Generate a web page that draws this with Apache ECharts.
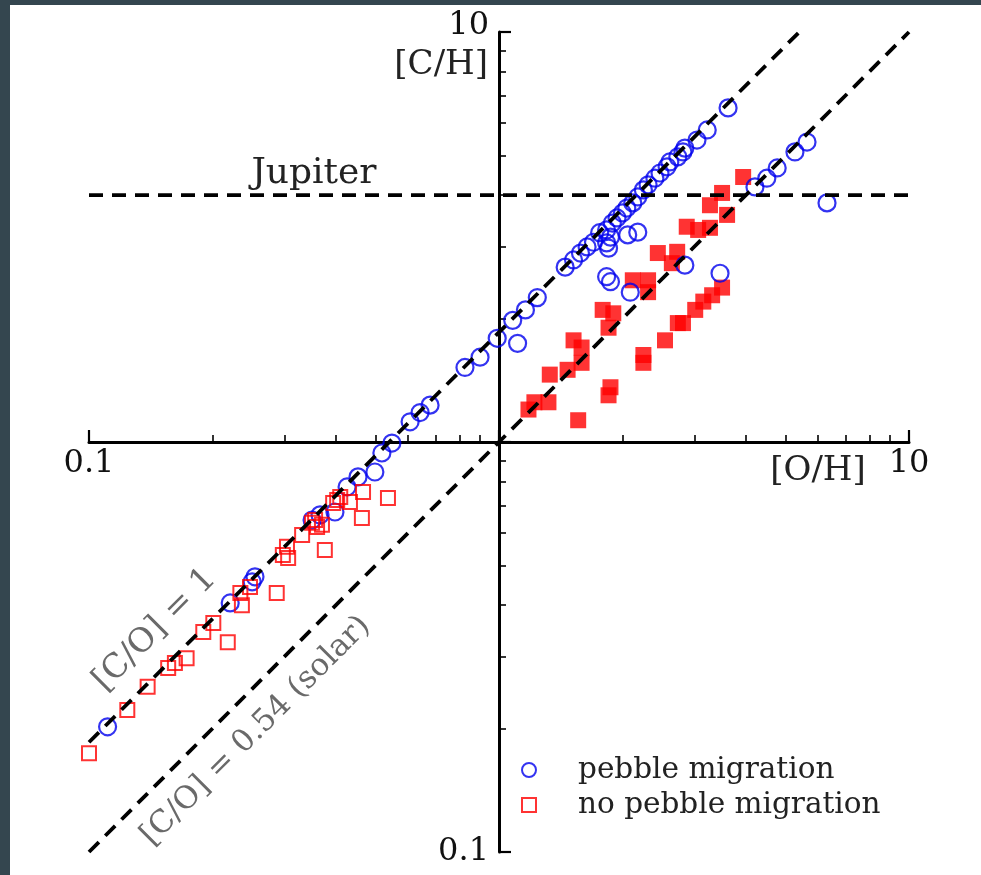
<!DOCTYPE html>
<html><head><meta charset="utf-8">
<script src="https://cdn.jsdelivr.net/npm/echarts@6/dist/echarts.min.js"></script>
<style>
html,body{margin:0;padding:0;background:#fff;}
#main{position:absolute;left:0;top:0;width:981px;height:875px;}
.bd{position:absolute;background:#34464f;z-index:10;}
</style></head><body>
<div id="main"></div>
<div class="bd" style="left:0;top:0;width:10px;height:875px"></div>
<div class="bd" style="left:0;top:0;width:981px;height:5px"></div>
<script>
// ---- data (solar-normalised abundances) ----
const pebbleOH = [3.62,3.22,3.04,2.84,2.81,2.73,2.61,2.57,2.47,2.40,2.31,2.25,2.18,2.12,2.05,2.00,1.94,1.89,1.83,1.76,1.70,1.64,1.58,1.52,1.45,
  2.18,2.06,1.87,1.83,1.85,1.83,1.87,2.09,2.84,3.46,
  5.64,5.27,4.77,4.50,4.21,6.31,
  1.24,1.16,1.08,0.99,1.11,0.899,0.826,0.679,0.642,0.607,0.548,0.518,0.498,0.453,0.426,0.398,0.366,0.350,0.254,0.250,0.221,0.111];
const pebbleCH = [6.53,5.77,5.45,5.21,5.10,4.96,4.82,4.69,4.53,4.40,4.24,4.12,3.96,3.83,3.72,3.62,3.52,3.42,3.29,3.24,3.07,2.99,2.89,2.78,2.67,
  3.25,3.20,3.16,3.06,2.97,2.53,2.46,2.32,2.70,2.58,
  5.39,5.10,4.66,4.40,4.19,3.83,
  2.25,2.10,1.98,1.79,1.74,1.61,1.52,1.23,1.18,1.12,0.994,0.940,0.845,0.822,0.777,0.675,0.664,0.645,0.469,0.456,0.405,0.202];
const noPebbleOH = [0.536,0.466,0.433,0.410,0.403,0.394,0.463,0.370,0.356,0.350,0.360,0.331,0.304,0.376,0.297,0.306,0.287,0.247,0.234,0.236,0.201,0.190,0.218,0.173,0.162,0.156,0.139,0.124,0.100];
const noPebbleCH = [0.730,0.755,0.714,0.734,0.722,0.710,0.653,0.628,0.645,0.635,0.620,0.593,0.555,0.545,0.530,0.521,0.428,0.443,0.428,0.400,0.362,0.344,0.325,0.297,0.289,0.281,0.253,0.222,0.174];
const noPebbleFilledOH = [3.94,3.50,3.27,3.60,2.87,3.06,3.27,2.44,2.72,2.64,2.12,2.31,2.31,3.50,3.31,3.15,3.01,2.81,2.73,2.54,1.79,1.90,1.85,1.52,1.59,1.59,1.47,1.33,1.22,1.32,1.18,1.87,1.85,1.56,2.25,2.25];
const noPebbleFilledCH = [4.43,4.05,3.78,3.58,3.35,3.29,3.33,2.89,2.91,2.73,2.48,2.48,2.32,2.38,2.28,2.20,2.10,1.95,1.95,1.77,2.10,2.06,1.90,1.77,1.70,1.56,1.50,1.46,1.25,1.25,1.20,1.36,1.30,1.13,1.63,1.56];

const axisMin = 0.1, axisMax = 10;
const jupiterCH = 4.0;
const solarCO = 0.54;
const majorTicks = [0.1, 1, 10];
const minorTicks = [0.2,0.3,0.4,0.5,0.6,0.7,0.8,0.9,2,3,4,5,6,7,8,9];
const tickLabelValues = [0.1, 10];
const tickLabels = ['0.1', '10'];
const seriesNames = ['pebble migration', 'no pebble migration'];

const zip = (a, b) => a.map((v, i) => [v, b[i]]);
const serif = 'DejaVu Serif';
const labelFmt = v => tickLabels[Math.abs(Math.log10(v) - Math.log10(tickLabelValues[0])) < 0.01 ? 0 : 1];

const dashed = {color: '#000', width: 3.8, type: [14, 9]};
const lineSeries = (name, pts) => ({
  name, type: 'line', xAxisIndex: 0, yAxisIndex: 0, symbol: 'none', silent: true, z: 10,
  lineStyle: dashed, data: pts
});

const chart = echarts.init(document.getElementById('main'), null, {renderer: 'canvas'});
const logAxis = (extra) => Object.assign({type: 'log', logBase: 10, min: axisMin, max: axisMax, splitLine: {show: false}}, extra);

chart.setOption({
  animation: false,
  backgroundColor: 'transparent',
  grid: [
    {left: 89, top: 32, width: 820, height: 820},
    {left: 89, top: 32, width: 820, height: 410},
    {left: 499, top: 32, width: 410, height: 820}
  ],
  xAxis: [
    logAxis({gridIndex: 0, show: false}),
    logAxis({gridIndex: 1, position: 'bottom',
      axisLine: {lineStyle: {color: '#000', width: 3}},
      axisTick: {inside: true, length: 12, lineStyle: {color: '#000', width: 2.2}, customValues: majorTicks},
      axisLabel: {customValues: tickLabelValues, formatter: labelFmt, fontFamily: serif, fontSize: 32, color: '#111', margin: 6}}),
    logAxis({gridIndex: 1, position: 'bottom',
      axisLine: {show: false},
      axisTick: {inside: true, length: 7, lineStyle: {color: '#000', width: 1.6}, customValues: minorTicks},
      axisLabel: {show: false}}),
    logAxis({gridIndex: 2, show: false})
  ],
  yAxis: [
    logAxis({gridIndex: 0, show: false}),
    logAxis({gridIndex: 1, show: false}),
    logAxis({gridIndex: 2, position: 'left',
      axisLine: {lineStyle: {color: '#000', width: 3}},
      axisTick: {inside: true, length: 12, lineStyle: {color: '#000', width: 2.2}, customValues: majorTicks},
      axisLabel: {customValues: tickLabelValues, fontFamily: serif, fontSize: 32, color: '#111', margin: 10,
        formatter: v => labelFmt(v) === '10' ? '{t|10}' : '0.1',
        rich: {t: {fontFamily: serif, fontSize: 32, color: '#111', padding: [0, 0, 12, 0]}}}}),
    logAxis({gridIndex: 2, position: 'left',
      axisLine: {show: false},
      axisTick: {inside: true, length: 7, lineStyle: {color: '#000', width: 1.6}, customValues: minorTicks},
      axisLabel: {show: false}})
  ],
  legend: {
    data: seriesNames, orient: 'vertical', left: 516, top: 750, itemWidth: 14, itemHeight: 14, itemGap: 5,
    selectedMode: false,
    textStyle: {fontFamily: serif, fontSize: 29.5, color: '#222', lineHeight: 30, padding: [0, 0, 0, 37]}
  },
  series: [
    {name: 'no pebble migration (late)', type: 'scatter', xAxisIndex: 0, yAxisIndex: 0, symbol: 'rect', symbolSize: 16,
      itemStyle: {color: '#ff0000'}, data: zip(noPebbleFilledOH, noPebbleFilledCH), z: 2},
    {name: seriesNames[0], type: 'scatter', xAxisIndex: 0, yAxisIndex: 0, symbol: 'circle', symbolSize: 17,
      itemStyle: {color: 'rgba(255,255,255,0)', borderColor: '#0000ee', borderWidth: 2.2}, data: zip(pebbleOH, pebbleCH), z: 3},
    {name: seriesNames[1], type: 'scatter', xAxisIndex: 0, yAxisIndex: 0, symbol: 'rect', symbolSize: 14, clip: false,
      itemStyle: {color: 'rgba(255,255,255,0)', borderColor: '#ff0000', borderWidth: 2}, data: zip(noPebbleOH, noPebbleCH), z: 4},
    lineSeries('C/O = 1', [[axisMin, axisMin / solarCO], [axisMax * solarCO, axisMax]]),
    lineSeries('C/O = 0.54 (solar)', [[axisMin, axisMin], [axisMax, axisMax]]),
    lineSeries('Jupiter', [[axisMin, jupiterCH], [axisMax, jupiterCH]])
  ],
  graphic: [
    {type: 'text', x: 314, y: 174, style: {text: 'Jupiter', fontFamily: serif, fontSize: 36, fill: '#222', align: 'center', verticalAlign: 'middle'}},
    {type: 'text', x: 488, y: 65, style: {text: '[C/H]', fontFamily: serif, fontSize: 34, fill: '#222', align: 'right', verticalAlign: 'middle'}},
    {type: 'text', x: 818, y: 471, style: {text: '[O/H]', fontFamily: serif, fontSize: 34, fill: '#222', align: 'center', verticalAlign: 'middle'}},
    {type: 'text', x: 155, y: 630, rotation: Math.PI / 4, style: {text: '[C/O] = 1', fontFamily: serif, fontSize: 33, fill: '#6a6a6a', align: 'center', verticalAlign: 'middle'}},
    {type: 'text', x: 256, y: 731, rotation: Math.PI / 4, style: {text: '[C/O] = 0.54 (solar)', fontFamily: serif, fontSize: 31, fill: '#6a6a6a', align: 'center', verticalAlign: 'middle'}}
  ]
});
</script>
</body></html>
